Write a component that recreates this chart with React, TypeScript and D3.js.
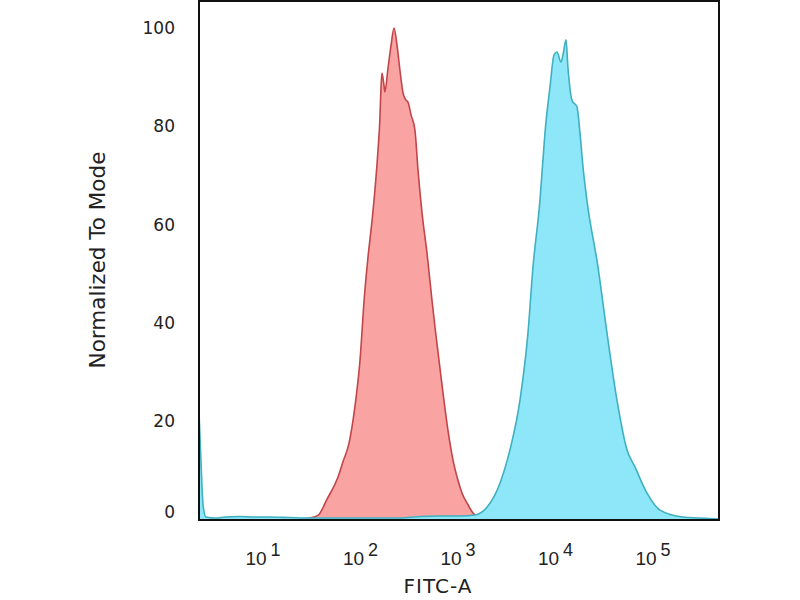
import * as d3 from "d3"
import { useEffect, useRef } from "react"

// Isotype control (red) – FITC intensity and normalized count
const redIntensity = [
  24, 30, 37, 45, 59, 66, 76, 84, 90, 99, 109, 119, 131, 141, 151, 158, 162, 166, 174, 178, 191,
  206, 221, 237, 254, 273, 293, 307, 330, 362, 389, 428, 481, 541, 581, 638, 702, 789, 889, 1000,
  1099, 1268, 1426, 1683, 2128,
]
const redCount = [
  0, 0.2, 0.8, 3.9, 8.6, 11.6, 15.3, 20.2, 24.6, 32.4, 44.6, 53.0, 60.5, 67.2, 74.9, 81.3, 87.4,
  90.8, 88.4, 87.0, 91.6, 96.5, 100, 96.5, 91.4, 86.8, 85.3, 84.9, 82.3, 79.2, 71.1, 62.3, 54.2,
  44.6, 39.1, 32.4, 25.7, 18.1, 12.0, 7.9, 5.3, 2.9, 1.2, 0.2, 0,
]

// Stained sample (blue)
const blueIntensity = [
  2.21, 2.31, 2.43, 2.6, 3.22, 4.08, 5.81, 8.28, 11.8, 18.9, 30.3, 48.6, 98.9, 254, 407, 653,
  1049, 1494, 1982, 2697, 3414, 4325, 5223, 5877, 6934, 7274, 7801, 8785, 9654, 10358, 11385,
  11934, 12816, 13429, 14757, 16624, 17834, 19147, 21040, 27290, 33740, 42720, 54080, 65330,
  86650, 118000, 203000, 303000, 475000,
]
const blueCount = [
  21.6, 12.0, 2.85, 0.4, 0.2, 0.4, 0.5, 0.4, 0.4, 0.3, 0.2, 0.2, 0.2, 0.2, 0.5, 0.6, 0.6, 0.8,
  2.4, 7.3, 14.1, 24.2, 37.9, 51.3, 65.0, 70.5, 78.6, 88.0, 94.5, 95.1, 93.1, 94.5, 97.6, 91.9,
  85.3, 83.9, 78.6, 71.7, 64.8, 51.3, 37.9, 24.2, 14.1, 10.6, 5.3, 1.8, 0.4, 0.2, 0,
]

const yTicks = [0, 20, 40, 60, 80, 100]
const xDecades = [1, 2, 3, 4, 5]

type Pt = { v: number; c: number }

const App = () => {
  const svgRef = useRef<SVGSVGElement | null>(null)

  useEffect(() => {
    if (!svgRef.current) return
    const svg = d3.select(svgRef.current)
    svg.selectAll("*").remove()

    const left = 199
    const right = 719
    const top = 1
    const bottom = 520

    const x = d3
      .scaleLog()
      .domain([Math.pow(10, 0.344), Math.pow(10, 5.677)])
      .range([left, right])

    const y = d3.scaleLinear().domain([0, 100]).range([519, 28])

    svg.append("rect").attr("width", 800).attr("height", 600).attr("fill", "#fff")

    svg
      .append("defs")
      .append("clipPath")
      .attr("id", "plot-clip")
      .append("rect")
      .attr("x", left)
      .attr("y", top)
      .attr("width", right - left)
      .attr("height", bottom - top)

    const area = d3
      .area<Pt>()
      .curve(d3.curveMonotoneX)
      .x(d => x(d.v))
      .y0(y(0))
      .y1(d => y(d.c))

    const line = d3
      .line<Pt>()
      .curve(d3.curveMonotoneX)
      .x(d => x(d.v))
      .y(d => y(d.c))

    const red: Pt[] = redIntensity.map((v, i) => ({ v, c: redCount[i] }))
    const blue: Pt[] = blueIntensity.map((v, i) => ({ v, c: blueCount[i] }))

    const plot = svg.append("g").attr("clip-path", "url(#plot-clip)")

    // Red histogram
    plot.append("path").datum(red).attr("fill", "#f9a3a3").attr("d", area)
    plot
      .append("path")
      .datum(red)
      .attr("fill", "none")
      .attr("stroke", "#c2454a")
      .attr("stroke-width", 1.6)
      .attr("d", line)

    // Blue histogram
    plot.append("path").datum(blue).attr("fill", "#8ee7f8").attr("d", area)
    plot
      .append("path")
      .datum(blue)
      .attr("fill", "none")
      .attr("stroke", "#3fb0c0")
      .attr("stroke-width", 1.6)
      .attr("d", line)

    // Frame
    svg
      .append("rect")
      .attr("x", left)
      .attr("y", top)
      .attr("width", right - left)
      .attr("height", bottom - top)
      .attr("fill", "none")
      .attr("stroke", "#111")
      .attr("stroke-width", 2)

    // Y tick labels
    svg
      .append("g")
      .selectAll("text")
      .data(yTicks)
      .enter()
      .append("text")
      .attr("x", 175)
      .attr("y", d => Math.min(y(d), 512))
      .attr("dy", "0.36em")
      .attr("text-anchor", "end")
      .attr("fill", "#222")
      .style("font-family", "DejaVu Sans")
      .style("font-size", "17px")
      .text(d => d)

    // X tick labels (10^n)
    const xt = svg
      .append("g")
      .selectAll("text")
      .data(xDecades)
      .enter()
      .append("text")
      .attr("x", d => x(Math.pow(10, d)))
      .attr("y", 565)
      .attr("text-anchor", "middle")
      .attr("fill", "#222")
      .style("font-family", "Liberation Sans")
      .style("font-size", "19px")
    xt.append("tspan").text("10")
    xt.append("tspan")
      .attr("dx", 4)
      .attr("dy", -9)
      .style("font-size", "18px")
      .text(d => d)

    // Axis titles
    svg
      .append("text")
      .attr("x", 438)
      .attr("y", 593)
      .attr("text-anchor", "middle")
      .attr("fill", "#222")
      .style("font-family", "DejaVu Sans")
      .style("font-size", "20px")
      .style("letter-spacing", "1px")
      .text("FITC-A")

    svg
      .append("text")
      .attr("transform", "translate(105,260) rotate(-90)")
      .attr("text-anchor", "middle")
      .attr("fill", "#222")
      .style("font-family", "DejaVu Sans")
      .style("font-size", "21.5px")
      .text("Normalized To Mode")
  }, [])

  return (
    <div style={{ position: "fixed", left: 0, top: 0, width: 800, height: 600 }}>
      <svg ref={svgRef} width={800} height={600} style={{ display: "block" }} />
    </div>
  )
}

export default App
